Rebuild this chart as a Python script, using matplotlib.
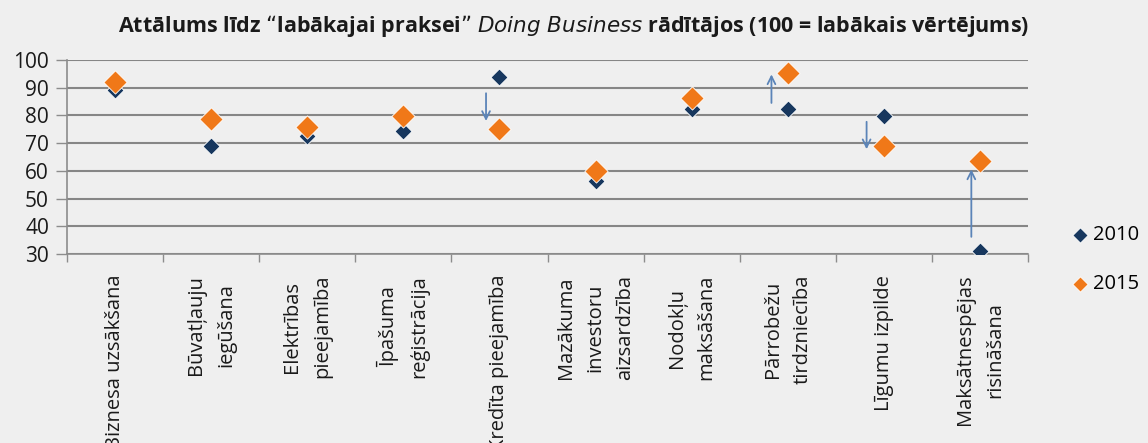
import matplotlib.pyplot as plt
import numpy as np

plt.rcParams['font.family'] = ['Open Sans', 'DejaVu Sans']

categories = ["Biznesa uzsākšana", "Būvatļauju\niegūšana", "Elektrības\npieejamība",
              "Īpašuma\nreģistrācija", "Kredīta pieejamība", "Mazākuma\ninvestoru\naizsardzība",
              "Nodokļu\nmaksāšana", "Pārrobežu\ntirdzniecība", "Līgumu izpilde",
              "Maksātnespējas\nrisināšana"]
v2010 = [89, 69, 72.5, 74.5, 93.7, 56.5, 82.3, 82.3, 79.8, 31.2]
v2015 = [92.2, 78.8, 75.7, 79.8, 75, 60, 86.2, 95.3, 69, 63.4]

# arrows showing the change: category index, x offset, start, end
arrow_idx = [4, 7, 8, 9]
arrow_dx = [-0.14, -0.17, -0.18, -0.09]
arrow_from = [88, 84.5, 77.7, 36.2]
arrow_to = [78, 94.8, 67.8, 60.5]

bg = "#efefef"
fig = plt.figure(figsize=(11.48, 4.43), dpi=100, facecolor=bg)
ax = fig.add_axes([0.0584, 0.4266, 0.8371, 0.438], facecolor=bg)

x = np.arange(len(categories)) + 0.5
ax.scatter(x, v2010, marker="D", s=75, color="#17375e", edgecolors="white", linewidths=0.6,
           zorder=3, label="2010")
ax.scatter(x, v2015, marker="D", s=140, color="#f07818", edgecolors="white", linewidths=0.6,
           zorder=4, label="2015")

for i, dx, y0, y1 in zip(arrow_idx, arrow_dx, arrow_from, arrow_to):
    ax.annotate("", xy=(x[i] + dx, y1), xytext=(x[i] + dx, y0),
                arrowprops=dict(arrowstyle="->", color="#5b84b8", lw=1.3,
                                mutation_scale=14, shrinkA=0, shrinkB=0), zorder=2)

ax.set_xlim(0, len(categories))
ax.set_ylim(30, 100)
ax.set_yticks(range(30, 101, 10))
ax.yaxis.grid(True, color="#868686", lw=1.5)
ax.set_axisbelow(True)

ax.set_xticks(range(len(categories) + 1))
ax.set_xticklabels([])
ax.set_xticks(x, minor=True)
ax.set_xticklabels(categories, minor=True, rotation=90, ha="center", va="top",
                   multialignment="center", fontsize=14.5, linespacing=1.65, color="#1a1a1a")
ax.tick_params(axis="x", which="minor", length=0, pad=15)
ax.tick_params(axis="x", which="major", length=6, color="#8c8c8c", width=1)
ax.tick_params(axis="y", length=8, color="#8c8c8c", width=1, labelsize=15, pad=5,
               labelcolor="#1a1a1a")

for s in ["top", "right"]:
    ax.spines[s].set_visible(False)
for s in ["left", "bottom"]:
    ax.spines[s].set_color("#8c8c8c")
    ax.spines[s].set_linewidth(1.2)

leg = fig.legend(loc="upper left", bbox_to_anchor=(0.924, 0.515), frameon=False,
                 fontsize=14.5, handletextpad=0.2, labelspacing=1.45, handlelength=0.9,
                 borderpad=0)
for h in leg.legend_handles:
    h.set_sizes([60])

fig.text(0.5, 0.942, "Attālums līdz “labākajai praksei” $\\bf{\\it{Doing\\ Business}}$ rādītājos (100 = labākais vērtējums)",
         ha="center", va="center", fontsize=15.5, fontweight="bold", color="#1a1a1a")

fig.savefig("out.png", dpi=100, facecolor=bg)
